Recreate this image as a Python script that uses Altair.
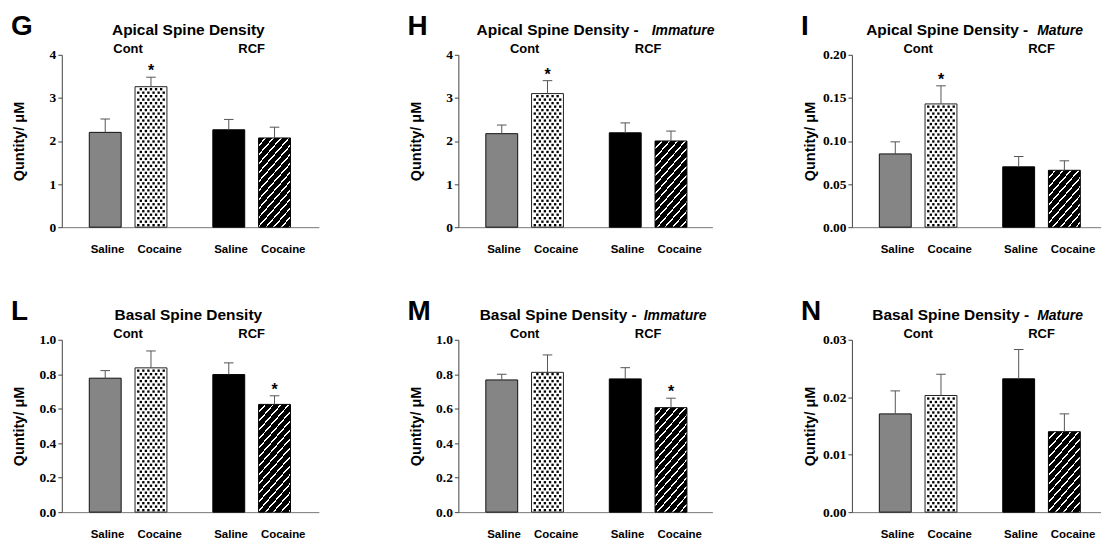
import altair as alt
import pandas as pd

# ---------------- data ----------------
conditions = ["Saline", "Cocaine", "Saline", "Cocaine"]
groups = ["Cont", "Cont", "RCF", "RCF"]
group_labels = ["Cont", "RCF"]

panel_letters = ["G", "H", "I", "L", "M", "N"]
title_main = ["Apical Spine Density", "Apical Spine Density -", "Apical Spine Density -",
              "Basal Spine Density", "Basal Spine Density -", "Basal Spine Density -"]
title_italic = ["", "Immature", "Mature", "", "Immature", "Mature"]
y_title = "Quntity/ μM"

means_G = [2.20, 3.26, 2.26, 2.07]
sems_G = [0.31, 0.22, 0.24, 0.25]
means_H = [2.17, 3.10, 2.19, 2.00]
sems_H = [0.20, 0.30, 0.23, 0.23]
means_I = [0.085, 0.143, 0.070, 0.066]
sems_I = [0.014, 0.021, 0.012, 0.011]
means_L = [0.777, 0.837, 0.798, 0.625]
sems_L = [0.044, 0.098, 0.068, 0.050]
means_M = [0.767, 0.811, 0.773, 0.606]
sems_M = [0.033, 0.101, 0.065, 0.055]
means_N = [0.0171, 0.0203, 0.0232, 0.0140]
sems_N = [0.0040, 0.0037, 0.0051, 0.0031]

stars_G = [1]
stars_H = [1]
stars_I = [1]
stars_L = [3]
stars_M = [3]
stars_N = []

y_max = [4, 4, 0.20, 1.0, 1.0, 0.03]
ticks_G = [0, 1, 2, 3, 4]
ticks_H = [0, 1, 2, 3, 4]
ticks_I = [0.0, 0.05, 0.10, 0.15, 0.20]
ticks_L = [0.0, 0.2, 0.4, 0.6, 0.8, 1.0]
ticks_M = [0.0, 0.2, 0.4, 0.6, 0.8, 1.0]
ticks_N = [0.0, 0.01, 0.02, 0.03]
tick_formats = ["d", "d", ".2f", ".1f", ".1f", ".2f"]

means = [means_G, means_H, means_I, means_L, means_M, means_N]
sems = [sems_G, sems_H, sems_I, sems_L, sems_M, sems_N]
stars = [stars_G, stars_H, stars_I, stars_L, stars_M, stars_N]
ticks = [ticks_G, ticks_H, ticks_I, ticks_L, ticks_M, ticks_N]

# ---------------- layout / style ----------------
PXU = 47.78          # pixels per x unit
PLOT_H = 173
X0 = 0.16
BAR_POS = [1.0, 2.0, 3.7, 4.7]
BAR_W = 32
FILLS = ["#858585", "#ffffff", "#000000", None]
STROKES = ["#111111", "#222222", "#000000", "#000000"]
SANS = "Liberation Sans"
SERIF = "Liberation Serif"
# (prefix right edge, italic start) for split titles
TITLE_SPLIT = [None, (181, 194), (177, 186), None, (179, 186), (178, 186)]


def stripe_fill(h, w=BAR_W, a=1.15, period=9.0, white=0.22):
    k = h / w
    u = (a / k + 1) / (a * a / (k * k) + 1)
    dx = a * u / k
    dy = u
    n = (a * w + h) / period
    stops = []
    i = 0
    while i < n:
        o0 = min(i / n, 1.0)
        o1 = min((i + 1 - white) / n, 1.0)
        o2 = min((i + 1) / n, 1.0)
        stops += [alt.GradientStop(offset=o0, color="#000000"),
                  alt.GradientStop(offset=o1, color="#000000"),
                  alt.GradientStop(offset=o1, color="#ffffff"),
                  alt.GradientStop(offset=o2, color="#ffffff")]
        i += 1
    return alt.LinearGradient(gradient="linear", stops=stops, x1=0, y1=0, x2=dx, y2=dy)


def dot_texture(pos, h_px, ymax):
    rows = []
    r = 0
    y = 2.0
    while y < h_px - 1.5:
        offs = [-13.3, -8.0, -2.7, 2.7, 8.0, 13.3] if r % 2 == 0 else [-10.6, -5.3, 0.0, 5.3, 10.6]
        for o in offs:
            rows.append({"dx": pos + o / PXU, "dy": y / PLOT_H * ymax})
        y += 3.5
        r += 1
    return pd.DataFrame(rows)


def make_panel(p, w):
    ymax = y_max[p]
    m = means[p]
    s = sems[p]
    df = pd.DataFrame({
        "pos": BAR_POS,
        "cond": conditions,
        "group": groups,
        "idx": [0, 1, 2, 3],
        "mean": m,
        "top": [a + b for a, b in zip(m, s)],
        "star": ["*" if j in stars[p] else "" for j in range(4)],
    })
    xsc = alt.Scale(domain=[X0, X0 + w / PXU], nice=False, zero=False)
    ysc = alt.Scale(domain=[0, ymax], nice=False, zero=True)
    xax = alt.Axis(labels=False, ticks=False, grid=False, title=None,
                   domainColor="#777777", domainWidth=1)
    yax = alt.Axis(values=ticks[p], format=tick_formats[p], grid=False, title=y_title,
                   titleX=-42, titleY=PLOT_H / 2, titleAngle=270, titleAlign="center",
                   titleBaseline="middle", titleFont=SANS, titleFontSize=14.5,
                   titleFontWeight="bold", titleColor="#000000",
                   labelFont=SERIF, labelFontSize=13.5, labelFontWeight="bold",
                   labelColor="#000000", labelPadding=2, tickSize=4,
                   tickColor="#444444", domainColor="#444444", domainWidth=1)

    def X(f):
        return alt.X(f, scale=xsc, axis=xax)

    def Y(f):
        return alt.Y(f, scale=ysc, axis=yax)

    base = alt.Chart(df)
    layers = []
    for j in range(4):
        fill = FILLS[j] if FILLS[j] is not None else stripe_fill(m[j] / ymax * PLOT_H)
        layers.append(
            base.transform_filter(alt.datum.idx == j)
            .mark_bar(size=BAR_W, orient="vertical", fill=fill, stroke=STROKES[j], strokeWidth=1)
            .encode(x=X("pos:Q"), y=Y("mean:Q"))
        )
        if j == 1:
            dots = dot_texture(BAR_POS[1], m[1] / ymax * PLOT_H, ymax)
            layers.append(
                alt.Chart(dots).mark_square(size=5.5, color="#000000", opacity=1)
                .encode(x=X("dx:Q"), y=Y("dy:Q"))
            )

    # error bars (upper only)
    layers.append(
        base.mark_rule(color="#555555", strokeWidth=1)
        .encode(x=X("pos:Q"), y=Y("mean:Q"), y2="top:Q")
    )
    layers.append(
        base.transform_calculate(xl=f"datum.pos - {5 / PXU}", xr=f"datum.pos + {5 / PXU}")
        .mark_rule(color="#555555", strokeWidth=1)
        .encode(x=X("xl:Q"), x2="xr:Q", y=Y("top:Q"))
    )
    # significance stars
    layers.append(
        base.transform_filter(alt.datum.star != "")
        .mark_text(font=SANS, fontSize=16, fontWeight="bold", color="#000000",
                   align="center", baseline="alphabetic", dy=-1)
        .encode(x=X("pos:Q"), y=Y("top:Q"), text="star:N")
    )
    # x labels
    layers.append(
        base.transform_calculate(lx="datum.pos + (datum.cond == 'Cocaine' ? 0.19 : 0.05)")
        .mark_text(font=SANS, fontSize=11.5, fontWeight="bold", color="#000000",
                   align="center", baseline="alphabetic")
        .encode(x=X("lx:Q"), y=alt.value(PLOT_H + 26), text="cond:N")
    )
    # group labels
    gdf = pd.DataFrame({"gpos": [(BAR_POS[0] + BAR_POS[1]) / 2, (BAR_POS[2] + BAR_POS[3]) / 2],
                        "label": group_labels})
    layers.append(
        alt.Chart(gdf).mark_text(font=SANS, fontSize=13, fontWeight="bold", color="#000000",
                                 align="center", baseline="alphabetic")
        .encode(x=X("gpos:Q"), y=alt.value(-2), text="label:N")
    )
    # panel letter and title
    one = alt.Chart(pd.DataFrame({"letter": [panel_letters[p]], "main": [title_main[p]],
                                  "ital": [title_italic[p]]}))
    layers.append(
        one.mark_text(font=SANS, fontSize=28, fontWeight="bold", color="#000000",
                      align="left", baseline="alphabetic")
        .encode(x=alt.value(-51), y=alt.value(-20), text="letter:N")
    )
    if TITLE_SPLIT[p] is None:
        layers.append(
            one.mark_text(font=SANS, fontSize=15.5, fontWeight="bold", color="#000000",
                          align="center", baseline="alphabetic")
            .encode(x=alt.value(127), y=alt.value(-20), text="main:N")
        )
    else:
        xr, xi = TITLE_SPLIT[p]
        layers.append(
            one.mark_text(font=SANS, fontSize=15.5, fontWeight="bold", color="#000000",
                          align="right", baseline="alphabetic")
            .encode(x=alt.value(xr), y=alt.value(-20), text="main:N")
        )
        layers.append(
            one.mark_text(font=SANS, fontSize=14, fontWeight="bold", fontStyle="italic",
                          color="#000000", align="left", baseline="alphabetic")
            .encode(x=alt.value(xi), y=alt.value(-20), text="ital:N")
        )
    return alt.layer(*layers).properties(width=w, height=PLOT_H)


widths = [258, 255, 250]
panels = [make_panel(i, widths[i % 3]) for i in range(6)]
chart = (
    alt.concat(*panels, columns=3, spacing={"row": 113, "column": 140},
               bounds="flush", align="each")
    .properties(padding={"left": 3, "top": 4, "right": 0, "bottom": 0}, background="white")
    .configure_view(stroke=None)
)

chart.save("out.html", embed_options={"renderer": "svg", "actions": False})
